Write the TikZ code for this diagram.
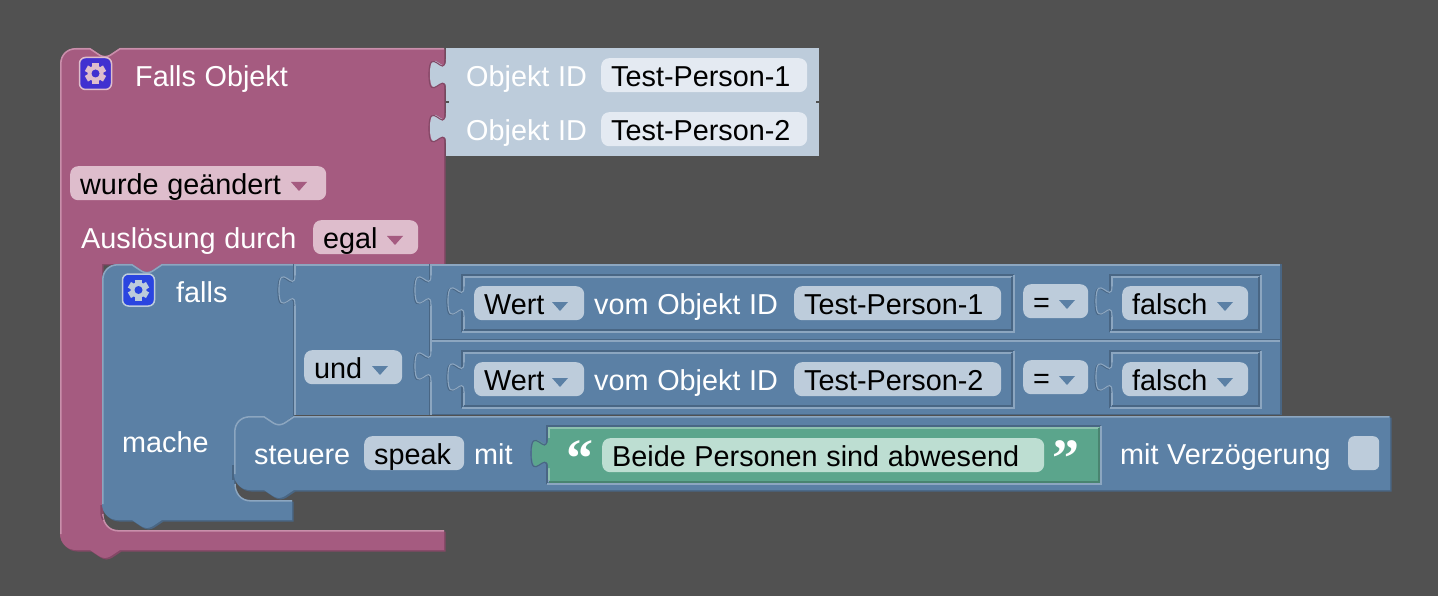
\documentclass[tikz,border=0pt]{standalone}
\usepackage{fontspec}
\setmainfont{Liberation Sans}[WordSpace=1.08]
\newfontfamily\quotefont{Liberation Serif}
\usepackage{xcolor}
\usetikzlibrary{positioning,calc}

\definecolor{bgcol}{HTML}{515151}
\definecolor{pinkmain}{HTML}{A55B80}
\definecolor{pinklight}{HTML}{C98FAB}
\definecolor{pinkdark}{HTML}{844866}
\definecolor{pinkfield}{HTML}{DEBDCC}
\definecolor{bluemain}{HTML}{5B80A5}
\definecolor{bluelight}{HTML}{8CA6C0}
\definecolor{bluedark}{HTML}{496684}
\definecolor{bluefield}{HTML}{BDCCDB}
\definecolor{greenmain}{HTML}{5BA58C}
\definecolor{greenlight}{HTML}{8CC0AE}
\definecolor{greendark}{HTML}{498470}
\definecolor{greenfield}{HTML}{BDDED2}
\definecolor{shadowfield}{HTML}{E4EAF2}
\definecolor{pinkicon}{HTML}{4030D0}
\definecolor{blueicon}{HTML}{2A45E0}

% notch and bump of the statement blocks
\newcommand{\notch}[2]{-- (#1,#2) [rounded corners=3pt] -- (#1+12,#2+8) -- (#1+18,#2+8) [sharp corners] -- (#1+30,#2)}
\newcommand{\bump}[2]{-- (#1+30,#2) [rounded corners=3pt] -- (#1+18,#2+8) -- (#1+12,#2+8) [sharp corners] -- (#1,#2)}
% puzzle tab on a left edge
\newcommand{\tabcurve}[2]{(#1,#2+30) .. controls (#1,#2+10) and (#1-16,#2+46) .. (#1-16,#2+15) .. controls (#1-16,#2-16) and (#1,#2+20) .. (#1,#2)}
\newcommand{\puzzletab}[4]{%
  \fill[#3] \tabcurve{#1}{#2} -- (#1+3,#2) -- (#1+3,#2+30) -- cycle;
  \draw[#4, tabedge, shift={(-1,0.6)}] \tabcurve{#1}{#2};
}
% socket of an input: the two nested frames
\newcommand{\socket}[6]{%
  \draw[#6, edge] (#1,#4) -- (#1,#2) -- (#3,#2);
  \draw[#5, edge] (#3,#2) -- (#3,#4) -- (#1,#4);
  \draw[#5, edge] (#1+2,#4-2) -- (#1+2,#2+2) -- (#3-2,#2+2);
  \draw[#6, edge] (#3-2,#2+2) -- (#3-2,#4-2) -- (#1+2,#4-2);
}
\newcommand{\dropdown}[3]{\fill[#3] (#1,#2) -- (#1+16,#2) -- (#1+8,#2+9) -- cycle;}
\newcommand{\gearicon}[4]{%
  \draw[draw=#4, fill=#3, line width=1.5pt, rounded corners=6pt] (#1-16,#2-16) rectangle (#1+16,#2+16);
  \foreach \a in {30,90,...,330}
    \fill[#4, rotate around={\a:(#1,#2)}] (#1+5,#2-3.2) rectangle (#1+10.5,#2+3.2);
  \fill[#4] (#1,#2) circle[radius=8pt];
  \fill[#3] (#1,#2) circle[radius=4pt];
}

\begin{document}
\begin{tikzpicture}[
    x=1pt, y=-1pt,
    edge/.style={line width=1.5pt},
    tabedge/.style={line width=1.1pt},
    label/.style={anchor=base west, inner sep=0pt, text=white, font=\fontsize{28.8}{32}\selectfont},
    field/.style={anchor=north west, text width=#1, align=flush left, inner xsep=10pt, inner ysep=2pt,
                  text height=26pt, text depth=4pt, rounded corners=8pt, text=black,
                  font=\fontsize{28.8}{32}\selectfont},
    quotes/.style={anchor=base west, inner sep=0pt, text=white,
                   font=\quotefont\bfseries\fontsize{54}{54}\selectfont},
  ]
  \useasboundingbox (0,0) rectangle (1438,596);
  \fill[bgcol] (0,0) rectangle (1438,596);

  % Trigger block
  \def\trigger{(60,64) .. controls (60,55) and (67,48) .. (76,48) \notch{90}{48} -- (444,48) -- (444,264)
    -- (162,264) -- (150,272) -- (144,272) -- (132,264) -- (102,264) -- (102,514)
    .. controls (102,523) and (109,530) .. (118,530) -- (444,530) -- (444,550) \bump{90}{550} -- (76,550)
    .. controls (67,550) and (60,543) .. (60,534) -- cycle}
  \fill[pinkdark, shift={(1.5,1.5)}] \trigger;
  \fill[pinkmain] \trigger;
  \draw[pinklight, edge] (60.8,534) -- (60.8,64) .. controls (60.8,55) and (67,48.8) .. (76,48.8) \notch{90}{48.8} -- (444,48.8);
  \draw[pinklight, edge] (102.8,514) .. controls (102.8,523) and (109,530.8) .. (118,530.8) -- (444,530.8);
  \draw[pinkdark, edge] (101.2,505) -- (101.2,514) .. controls (101.2,516) and (102,518) .. (103,520);

  % Object id values
  \fill[bluefield] (446,48) rectangle (819,156);
  \puzzletab{446}{59}{bluefield}{pinkdark}
  \puzzletab{446}{113}{bluefield}{pinkdark}
  \draw[bgcol, edge] (446,102) -- (449,102) (816,102) -- (819,102);
  \node[label] (idOne) at (466,86.5) {Objekt ID};
  \node[label] (idTwo) at (466,140.5) {Objekt ID};
  \node[field=186pt, fill=shadowfield] (personOne) at (601,58) {Test-Person-1};
  \node[field=186pt, fill=shadowfield] (personTwo) at (601,112) {Test-Person-2};

  % Trigger contents
  \gearicon{95.5}{73.5}{pinkicon}{pinkfield}
  \node[label] (fallsObjekt) at (135,87) {Falls Objekt};
  \node[field=236pt, fill=pinkfield] (changed) at (70,166) {wurde geändert};
  \dropdown{291}{182}{pinkmain}
  \node[label] (trigBy) at (81,248.5) {Auslösung durch};
  \node[field=85pt, fill=pinkfield] (egal) at (313,220) {egal};
  \dropdown{387}{236}{pinkmain}

  % If block
  \def\ifblock{(102,280) .. controls (102,271) and (109,264) .. (118,264) \notch{132}{264} -- (293,264) -- (293,416)
    -- (282,424) -- (276,424) -- (264,416) -- (245,425) -- (240,440) -- (234,450) -- (234,484)
    .. controls (234,493) and (241,500) .. (250,500) -- (292,500) -- (292,520) \bump{132}{520} -- (118,520)
    .. controls (109,520) and (102,513) .. (102,504) -- cycle}
  \fill[bluedark, shift={(1.5,1.5)}] \ifblock;
  \fill[bluemain] \ifblock;
  \draw[bluelight, edge] (102.8,504) -- (102.8,280) .. controls (102.8,271) and (109,264.8) .. (118,264.8) \notch{132}{264.8} -- (293,264.8);
  \draw[bluelight, edge] (235,484) .. controls (235,493) and (241,500.8) .. (250,500.8) -- (292,500.8);
  \gearicon{138.5}{290}{blueicon}{bluefield}
  \node[label] (falls) at (176,302) {falls};
  \node[label] (mache) at (122,452) {mache};

  % And block
  \fill[bluemain] (294,264) rectangle (430,415);
  \draw[bluedark, edge] (293.5,264) -- (293.5,415);
  \draw[bluelight, edge] (295,264.8) -- (430,264.8) (295.2,264) -- (295.2,415);
  \puzzletab{295}{275}{bluemain}{bluedark}
  \draw[bluelight, tabedge] \tabcurve{295}{275};
  \node[field=78pt, fill=bluefield] (und) at (304,350) {und};
  \dropdown{372}{366}{bluemain}

  % Compare blocks
  \foreach \ytop/\ybot/\nm in {264/340/Test-Person-1, 340/415/Test-Person-2} {
    \fill[bluedark] (431,\ytop) rectangle (1281.5,\ybot);
    \fill[bluemain] (430,\ytop) rectangle (1280,\ybot-1.5);
    \draw[bluedark, edge] (429.5,\ytop) -- (429.5,\ybot);
    \draw[bluelight, edge] (431,\ytop+0.8) -- (1280,\ytop+0.8) (431.2,\ytop) -- (431.2,\ybot);
    \puzzletab{431}{\ytop+11}{bluemain}{bluedark}
    \draw[bluelight, tabedge] \tabcurve{431}{\ytop+11};
    % Inner frames
    \socket{462}{\ytop+11}{1014}{\ytop+68}{bluelight}{bluedark}
    \puzzletab{464}{\ytop+22}{bluemain}{bluedark}
    \draw[bluelight, tabedge] \tabcurve{464}{\ytop+22};
    \socket{1110}{\ytop+11}{1261}{\ytop+68}{bluelight}{bluedark}
    \puzzletab{1112}{\ytop+22}{bluemain}{bluedark}
    \draw[bluelight, tabedge] \tabcurve{1112}{\ytop+22};
    \node[field=90pt, fill=bluefield] at (474,\ytop+22) {Wert};
    \dropdown{552}{\ytop+38}{bluemain}
    \node[label] at (594,\ytop+50) {vom Objekt ID};
    \node[field=187pt, fill=bluefield] at (794,\ytop+22) {\nm};
    \node[field=45pt, fill=bluefield] at (1023,\ytop+20) {=};
    \dropdown{1059}{\ytop+36}{bluemain}
    \node[field=106pt, fill=bluefield] at (1122,\ytop+22) {falsch};
    \dropdown{1217}{\ytop+38}{bluemain}
  }

  % Control block
  \def\steuer{(234,432) .. controls (234,423) and (241,416) .. (250,416) \notch{264}{416} -- (1390,416) -- (1390,490)
    \bump{264}{490} -- (250,490) .. controls (241,490) and (234,483) .. (234,474) -- cycle}
  \fill[bluedark, shift={(1.5,1.5)}] \steuer;
  \draw[bluedark, edge] (233.2,465) -- (233.2,480);
  \fill[bluemain] \steuer;
  \draw[bluelight, edge] (234.8,474) -- (234.8,432) .. controls (234.8,423) and (241,416.8) .. (250,416.8) \notch{264}{416.8} -- (1389,416.8);
  \node[label] (steuere) at (254,464) {steuere};
  \node[field=80pt, fill=bluefield] (speak) at (364,436) {speak};
  \node[label] (mit) at (474,464) {mit};

  % Text value
  \fill[greenmain] (547,427) rectangle (1100,482);
  \socket{547}{426}{1101}{484}{bluelight}{bluedark}
  \draw[greenlight, edge] (549,480) -- (549,428) -- (1099,428);
  \draw[greendark, edge] (1099,428) -- (1099,482) -- (549,482);
  \puzzletab{548}{438}{greenmain}{bluedark}
  \node[quotes] (quoteOpen) at (566.5,476) {“};
  \node[field=422pt, fill=greenfield] (speech) at (602,438) {Beide Personen sind abwesend};
  \node[quotes] (quoteClose) at (1052,476) {”};

  \node[label] (delay) at (1120,464) {mit Verzögerung};
  \node[draw=none, fill=bluefield, rounded corners=6pt, minimum width=31pt, minimum height=34pt,
        inner sep=0pt, anchor=north west] (delayBox) at (1348,436) {};
\end{tikzpicture}
\end{document}
